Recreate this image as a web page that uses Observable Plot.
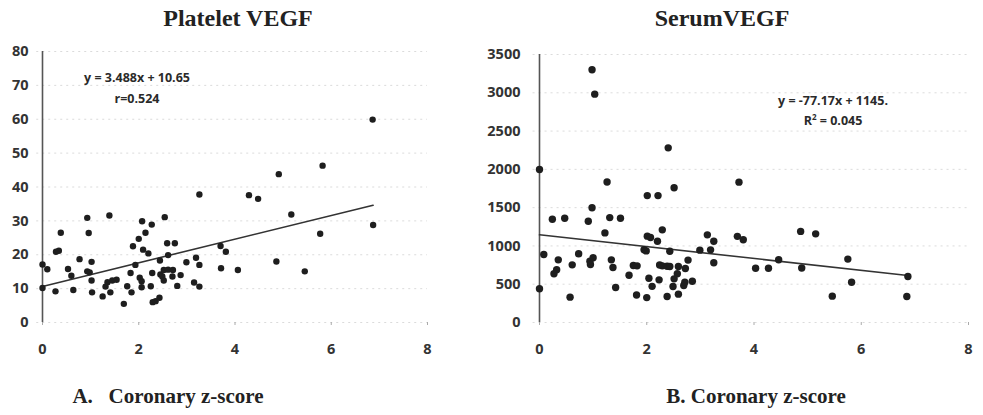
<!DOCTYPE html>
<html>
<head>
<meta charset="utf-8">
<script src="https://cdn.jsdelivr.net/npm/d3@7"></script>
<script src="https://cdn.jsdelivr.net/npm/@observablehq/plot@0.6"></script>
<style>
  html, body { margin: 0; padding: 0; background: #fff; }
  #wrap { position: relative; width: 983px; height: 415px; background: #fff; overflow: hidden; }
  .plot { position: absolute; top: 0; }
  .title, .caption { position: absolute; font-family: "Liberation Serif", "DejaVu Serif", serif; font-weight: bold; color: #222; white-space: nowrap; transform: translateX(-50%); }
  .title { font-size: 24px; top: 5px; }
  .caption { font-size: 21px; top: 384px; }
  .eq { position: absolute; font-family: "Open Sans", sans-serif; font-weight: 700; font-size: 12.5px; color: #2a2a2a; white-space: nowrap; transform: translate(-50%, -50%); }
</style>
</head>
<body>
<div id="wrap"></div>
<script>
// ---- Data: Platelet VEGF vs coronary z-score (panel A)
const plateletX = [0.0,0.1,0.0,0.27,0.28,0.34,0.38,0.53,0.60,0.64,0.77,0.93,0.96,0.93,0.98,1.02,1.02,1.03,1.39,1.25,1.31,1.35,1.45,1.54,1.41,1.69,1.76,1.85,1.83,1.88,1.93,2.0,2.07,2.02,2.06,2.06,2.14,2.09,2.2,2.27,2.25,2.28,2.29,2.35,2.43,2.45,2.44,2.54,2.59,2.75,2.61,2.52,2.61,2.71,2.49,2.52,2.70,2.87,2.80,2.99,3.15,3.26,3.19,3.26,3.26,3.70,3.81,3.71,4.06,4.29,4.48,4.86,4.91,5.17,5.45,5.77,5.82,6.86,6.87];
const plateletY = [17.1,15.7,10.2,9.2,20.9,21.2,26.5,15.8,13.8,9.6,18.7,30.9,26.4,15.1,14.8,17.9,12.4,8.9,31.6,7.7,10.6,11.9,12.4,12.6,8.9,5.5,10.7,8.9,14.6,22.5,17.0,24.7,29.9,13.2,12.2,10.4,26.5,21.5,20.4,28.9,10.7,14.6,6.0,6.3,7.3,14.2,18.3,31.1,23.4,23.4,19.9,15.5,15.6,15.5,13.6,12.4,13.6,14.0,10.8,17.8,11.8,10.6,19.1,17.0,37.8,22.6,20.9,16.0,15.5,37.6,36.5,18.0,43.8,31.9,15.1,26.2,46.3,59.9,28.8];
// ---- Data: Serum VEGF vs coronary z-score (panel B)
const serumX = [0.98,1.03,0,1.26,2.40,2.01,2.21,2.51,3.72,0.98,0.24,0.47,0.91,1.31,1.51,1.22,2.01,2.07,2.2,2.29,1.95,1.99,0.08,0.35,0.73,0.94,1.0,0.95,1.34,1.37,0.61,0.32,0.27,1.67,1.75,1.82,2.04,2.10,2.24,2.29,2.23,0,0.57,1.42,1.81,2.0,2.43,2.99,3.13,3.25,3.19,3.25,3.69,3.80,4.03,4.27,4.46,2.77,2.38,2.43,2.59,2.72,2.57,2.51,2.49,2.69,2.71,2.85,2.38,2.59,4.87,5.15,4.89,5.75,5.82,5.46,6.87,6.85];
const serumY = [3300,2982,1998,1835,2281,1657,1657,1759,1833,1498,1349,1362,1323,1370,1362,1170,1128,1110,1062,1210,950,935,888,818,897,800,845,757,818,718,753,688,636,618,744,740,577,472,750,740,557,440,331,457,360,325,931,945,1145,1062,949,780,1125,1080,708,708,820,815,735,731,731,705,636,570,470,483,526,539,340,370,1190,1158,712,828,526,344,601,340];

// ---- Regression fits (from the chart's annotations)
const plateletFit = { slope: 3.488, intercept: 10.65, xMax: 6.87 };
const serumFit = { slope: -77.17, intercept: 1145, xMax: 6.87 };

// ---- Tick labels
const xTicks = [0, 2, 4, 6, 8];
const plateletYTicks = [0, 10, 20, 30, 40, 50, 60, 70, 80];
const serumYTicks = [0, 500, 1000, 1500, 2000, 2500, 3000, 3500];

const toPoints = (xs, ys) => xs.map((x, i) => ({x, y: ys[i]}));
const fitLine = f => [0, f.xMax].map(x => ({x, y: f.slope * x + f.intercept}));

const wrap = document.getElementById("wrap");
const font = {fontFamily: "'Open Sans', sans-serif", fontSize: "14.5px", fontWeight: 700};

function panel({points, fit, yDomain, yTicks, width, marginLeft, marginRight, marginTop, tickPadding, r}) {
  return Plot.plot({
    width, height: 370,
    marginLeft, marginRight, marginTop, marginBottom: 48,
    style: {background: "transparent", color: "#333", ...font},
    x: {domain: [0, 8], ticks: xTicks, label: null},
    y: {domain: yDomain, ticks: yTicks, label: null},
    marks: [
      Plot.gridY(yTicks, {stroke: "#999", strokeOpacity: 0.35, strokeDasharray: "2,4", x1: -0.12}),
      Plot.axisX(xTicks, {tickSize: 3, stroke: "#aaa", text: null, label: null}),
      Plot.axisX(xTicks, {tickSize: 0, tickPadding: 21, fill: "#333", fontSize: 14.5, fontWeight: 700, label: null, tickFormat: d3.format("d")}),
      Plot.axisY(yTicks, {tickSize: 0, tickPadding, fill: "#333", fontSize: 14.5, fontWeight: 700, label: null, tickFormat: d3.format("d")}),
      Plot.ruleX([0], {stroke: "#555", strokeWidth: 1.6, y1: yDomain[0], y2: yDomain[1]}),
      Plot.line(fitLine(fit), {x: "x", y: "y", stroke: "#333", strokeWidth: 1.6}),
      Plot.dot(points, {x: "x", y: "y", r, fill: "#1e1e1e", stroke: "none"})
    ]
  });
}

const left = panel({
  points: toPoints(plateletX, plateletY), fit: plateletFit,
  yDomain: [0, 80], yTicks: plateletYTicks,
  width: 470, marginLeft: 42, marginRight: 43, marginTop: 51, tickPadding: 14, r: 3.2
});
left.classList.add("plot"); left.style.left = "0px";
wrap.appendChild(left);

const right = panel({
  points: toPoints(serumX, serumY), fit: serumFit,
  yDomain: [0, 3500], yTicks: serumYTicks,
  width: 513, marginLeft: 69, marginRight: 15, marginTop: 54, tickPadding: 19, r: 3.7
});
right.classList.add("plot"); right.style.left = "470px";
wrap.appendChild(right);

function addText(cls, text, x, y, html) {
  const d = document.createElement("div");
  d.className = cls;
  if (html) d.innerHTML = text; else d.textContent = text;
  d.style.left = x + "px";
  if (y != null) d.style.top = y + "px";
  wrap.appendChild(d);
}
addText("title", "Platelet VEGF", 238);
addText("title", "SerumVEGF", 722);
addText("caption", "A.&nbsp;&nbsp; Coronary z-score", 168, null, true);
addText("caption", "B. Coronary z-score", 756);
addText("eq", "y = 3.488x + 10.65", 137, 77);
addText("eq", "r=0.524", 137, 98);
addText("eq", "y = -77.17x + 1145.", 833, 100);
addText("eq", "R<sup style='font-size:8px'>2</sup> = 0.045", 833, 120, true);
</script>
</body>
</html>
